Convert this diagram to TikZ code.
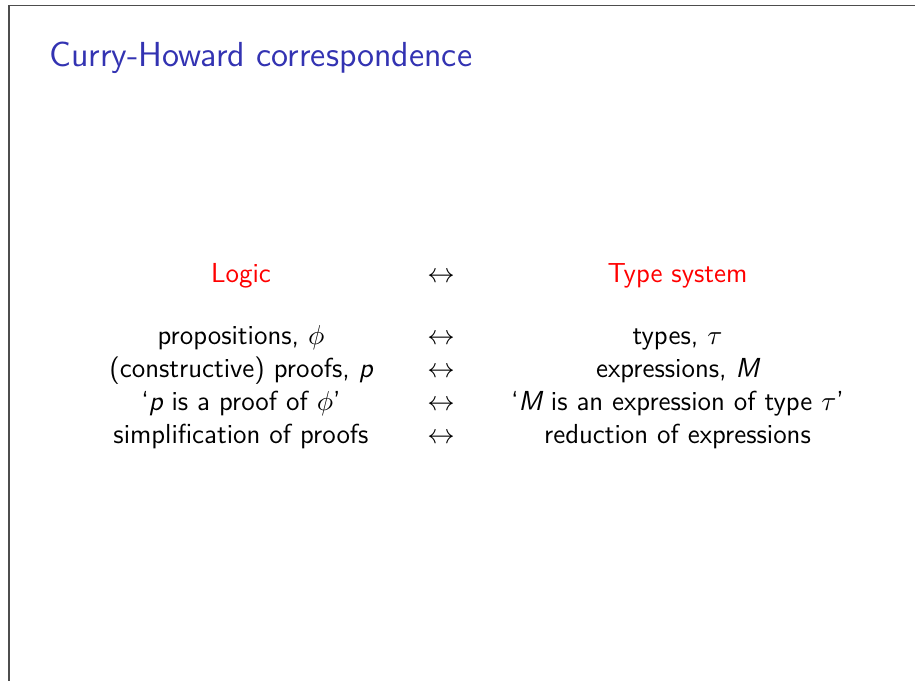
\documentclass[tikz,border=0pt]{standalone}
\usepackage{amsmath}
\usepackage{tikz}
\usetikzlibrary{positioning}
\definecolor{framegray}{HTML}{4D4D4D}
\definecolor{titleblue}{rgb}{0.2,0.2,0.7}
\definecolor{alertred}{HTML}{FF0000}

\begin{document}
\begin{tikzpicture}[x=0.4pt, y=-0.4pt,
  slidetitle/.style={anchor=base west, inner sep=0pt, font=\fontsize{13.9}{16.5}\selectfont\sffamily, text=titleblue},
  head/.style={anchor=base, inner sep=0pt, font=\fontsize{11}{13.6}\selectfont\sffamily, text=alertred},
  cell/.style={anchor=base, inner sep=0pt, font=\fontsize{11}{13.6}\selectfont\sffamily},
  edge/.style={draw=framegray, line width=0.6pt},
]
\useasboundingbox (0,0) rectangle (915,681);

% slide border
\coordinate (bl) at (9,681);
\coordinate (tl) at (9,5.5);
\coordinate (tr) at (915,5.5);
\draw[edge] (bl) -- (tl) -- (tr);

% title
\node[slidetitle] (title) at (49,66) {Curry-Howard correspondence};

% column heads
\node[head] (logic) at (241,282) {Logic};
\node[cell] (iff0) at (441,282) {$\leftrightarrow$};
\node[head] (typesys) at (677.5,282) {Type system};

% rows
\node[cell] (l1) at (241,344) {propositions, $\phi$};
\node[cell] (iff1) at (441,344) {$\leftrightarrow$};
\node[cell] (r1) at (677.5,344) {types, $\tau$};

\node[cell] (l2) at (241,377) {(constructive) proofs, {\itshape p}};
\node[cell] (iff2) at (441,377) {$\leftrightarrow$};
\node[cell] (r2) at (677.5,377) {expressions, {\itshape M}};

\node[cell] (l3) at (241,410) {‘{\itshape p} is a proof of $\phi$’};
\node[cell] (iff3) at (441,410) {$\leftrightarrow$};
\node[cell] (r3) at (677.5,410) {‘{\itshape M} is an expression of type $\tau$’};

\node[cell] (l4) at (241,443) {simplification of proofs};
\node[cell] (iff4) at (441,443) {$\leftrightarrow$};
\node[cell] (r4) at (677.5,443) {reduction of expressions};

\end{tikzpicture}
\end{document}
